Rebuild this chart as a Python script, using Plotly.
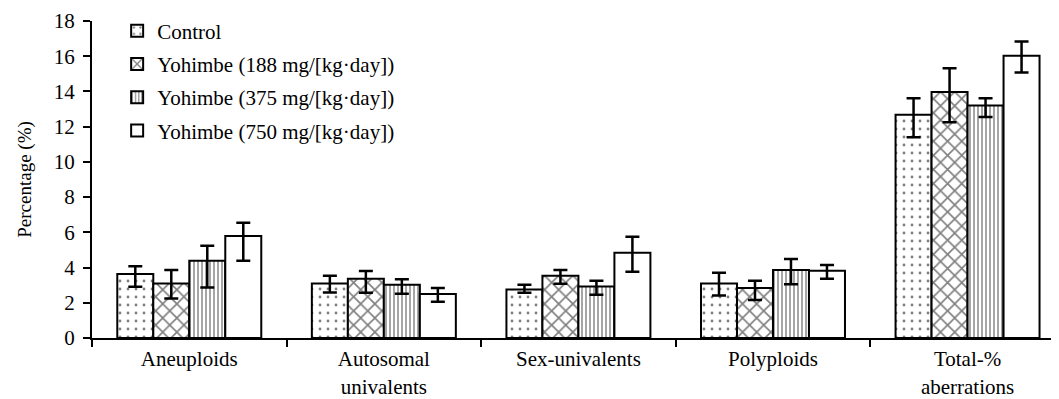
import plotly.graph_objects as go

categories = ["Aneuploids", "Autosomal<br>univalents", "Sex-univalents", "Polyploids", "Total-%<br>aberrations"]
series_names = ["Control", "Yohimbe (188 mg/[kg·day])", "Yohimbe (375 mg/[kg·day])", "Yohimbe (750 mg/[kg·day])"]

control = [3.63, 3.10, 2.76, 3.10, 12.67]
control_up = [4.07, 3.53, 3.02, 3.70, 13.61]
control_lo = [2.91, 2.59, 2.57, 2.42, 11.40]

y188 = [3.10, 3.36, 3.53, 2.84, 13.97]
y188_up = [3.86, 3.80, 3.86, 3.25, 15.31]
y188_lo = [2.25, 2.57, 3.08, 2.16, 12.25]

y375 = [4.39, 3.02, 2.93, 3.86, 13.20]
y375_up = [5.24, 3.33, 3.25, 4.48, 13.61]
y375_lo = [2.87, 2.51, 2.46, 3.05, 12.55]

y750 = [5.79, 2.50, 4.84, 3.82, 16.03]
y750_up = [6.54, 2.84, 5.75, 4.14, 16.83]
y750_lo = [4.39, 2.06, 3.76, 3.36, 15.07]

y_ticks = [0, 2, 4, 6, 8, 10, 12, 14, 16, 18]

values = [control, y188, y375, y750]
uppers = [control_up, y188_up, y375_up, y750_up]
lowers = [control_lo, y188_lo, y375_lo, y750_lo]
patterns = [
    dict(shape=".", fgcolor="black", bgcolor="white", size=8, solidity=0.1, fillmode="overlay"),
    dict(shape="x", fgcolor="black", bgcolor="white", size=10, solidity=0.3, fillmode="overlay"),
    dict(shape="|", fgcolor="black", bgcolor="white", size=4, solidity=0.35, fillmode="overlay"),
    dict(shape="", fgcolor="black", bgcolor="white"),
]

fig = go.Figure()
for i, name in enumerate(series_names):
    v = values[i]
    up = [u - a for u, a in zip(uppers[i], v)]
    lo = [a - l for l, a in zip(lowers[i], v)]
    fig.add_trace(go.Bar(
        x=categories, y=v, name=name, legendgroup=f"g{i}",
        marker=dict(color="white", line=dict(color="black", width=2), pattern=patterns[i]),
        error_y=dict(type="data", symmetric=False, array=up, arrayminus=lo,
                     color="black", thickness=2.5, width=7),
    ))

fig.update_layout(
    width=1051, height=391,
    margin=dict(l=84, r=0, t=13, b=61, autoexpand=False),
    paper_bgcolor="white", plot_bgcolor="white",
    barmode="group", bargap=0.26, bargroupgap=0,
    font=dict(family="Liberation Serif", size=21, color="black"),
    legend=dict(x=0.026, y=1.033, xanchor="left", yanchor="top",
                bgcolor="rgba(0,0,0,0)", font=dict(size=21), tracegroupgap=3,
                itemwidth=30),
    xaxis=dict(range=[-0.5, 4.47], showline=True, linecolor="black", linewidth=2,
               ticks="outside", tickson="boundaries", ticklen=7, tickwidth=2, tickcolor="black",
               ticklabelstandoff=1,
               showgrid=False, zeroline=False, automargin=False),
    yaxis=dict(range=[0, 18], tickvals=y_ticks, showline=True, linecolor="black", linewidth=2,
               ticks="outside", ticklen=7, tickwidth=2, tickcolor="black",
               ticklabelstandoff=4,
               showgrid=False, zeroline=False, automargin=False,
               title=dict(text="Percentage (%)", font=dict(size=19), standoff=17)),
)

fig.write_html("out.html")
